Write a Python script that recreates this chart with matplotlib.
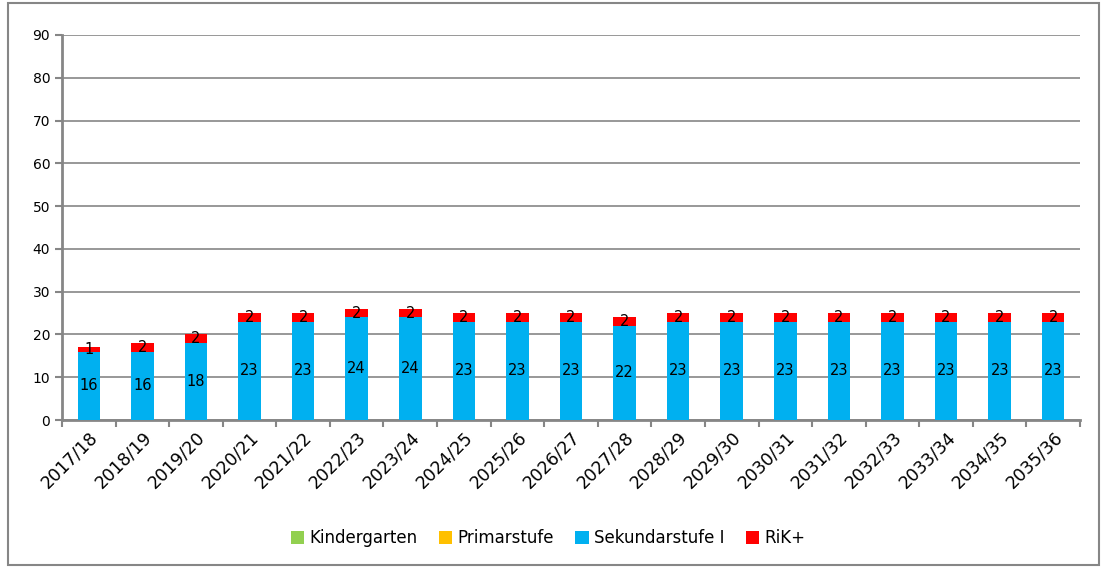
import matplotlib
matplotlib.use("Agg")
import matplotlib.pyplot as plt
import numpy as np
from matplotlib.patches import Rectangle

years = ["2017/18", "2018/19", "2019/20", "2020/21", "2021/22", "2022/23", "2023/24",
         "2024/25", "2025/26", "2026/27", "2027/28", "2028/29", "2029/30", "2030/31",
         "2031/32", "2032/33", "2033/34", "2034/35", "2035/36"]
kindergarten = [0] * 19
primarstufe = [0] * 19
sekundarstufe = [16, 16, 18, 23, 23, 24, 24, 23, 23, 23, 22, 23, 23, 23, 23, 23, 23, 23, 23]
rik = [1, 2, 2, 2, 2, 2, 2, 2, 2, 2, 2, 2, 2, 2, 2, 2, 2, 2, 2]

plt.rcParams['font.family'] = ['DejaVu Sans']

fig = plt.figure(figsize=(11.07, 5.68), dpi=100)
ax = fig.add_axes([62/1107, 1 - 420/568, (1080-62)/1107, (420-35)/568])

x = np.arange(len(years))
w = 0.42
colors = ["#92D050", "#FFC000", "#00B0F0", "#FF0000"]
names = ["Kindergarten", "Primarstufe", "Sekundarstufe I", "RiK+"]
series = [kindergarten, primarstufe, sekundarstufe, rik]
bottom = np.zeros(len(years))
for vals, c, n in zip(series, colors, names):
    v = np.array(vals, dtype=float)
    ax.bar(x, v, w, bottom=bottom, color=c, label=n, zorder=3)
    for xi, b, vi in zip(x, bottom, v):
        if vi > 0:
            ax.text(xi, b + vi / 2, f"{int(vi)}", ha="center", va="center",
                    fontsize=10.5, color="black", zorder=4)
    bottom += v

ax.set_xlim(-0.5, len(years) - 0.5)
ax.set_ylim(0, 90)
ax.set_yticks(range(0, 91, 10))
ax.yaxis.grid(True, color="#868686", linewidth=1.2, zorder=0)
ax.set_axisbelow(True)
for s in ["top", "right"]:
    ax.spines[s].set_visible(False)
ax.spines["left"].set_color("#868686")
ax.spines["left"].set_linewidth(2)
ax.spines["bottom"].set_color("#868686")
ax.spines["bottom"].set_linewidth(2)
ax.set_xticks(x)
ax.set_xticklabels(years, rotation=45, ha="right", rotation_mode="anchor", fontsize=12.5)
ax.set_xticks(np.arange(-0.5, len(years), 1), minor=True)
ax.tick_params(axis="x", which="major", length=0, pad=6)
ax.tick_params(axis="x", which="minor", length=5, color="#868686", width=1.5)
ax.tick_params(axis="y", length=5, color="#868686", width=1.5, labelsize=10)

handles, labels = ax.get_legend_handles_labels()
fig.legend(handles, labels, loc="center", bbox_to_anchor=(548/1107, 1 - 538/568), ncol=4,
           frameon=False, fontsize=12, handlelength=0.8, handleheight=0.8,
           handletextpad=0.3, columnspacing=1.3)

fig.patches.append(Rectangle((8/1107, 3/568), 1 - 16/1107, 1 - 6/568, transform=fig.transFigure,
                             fill=False, edgecolor="#868686", linewidth=1.5))

fig.savefig("out.png", dpi=100)
